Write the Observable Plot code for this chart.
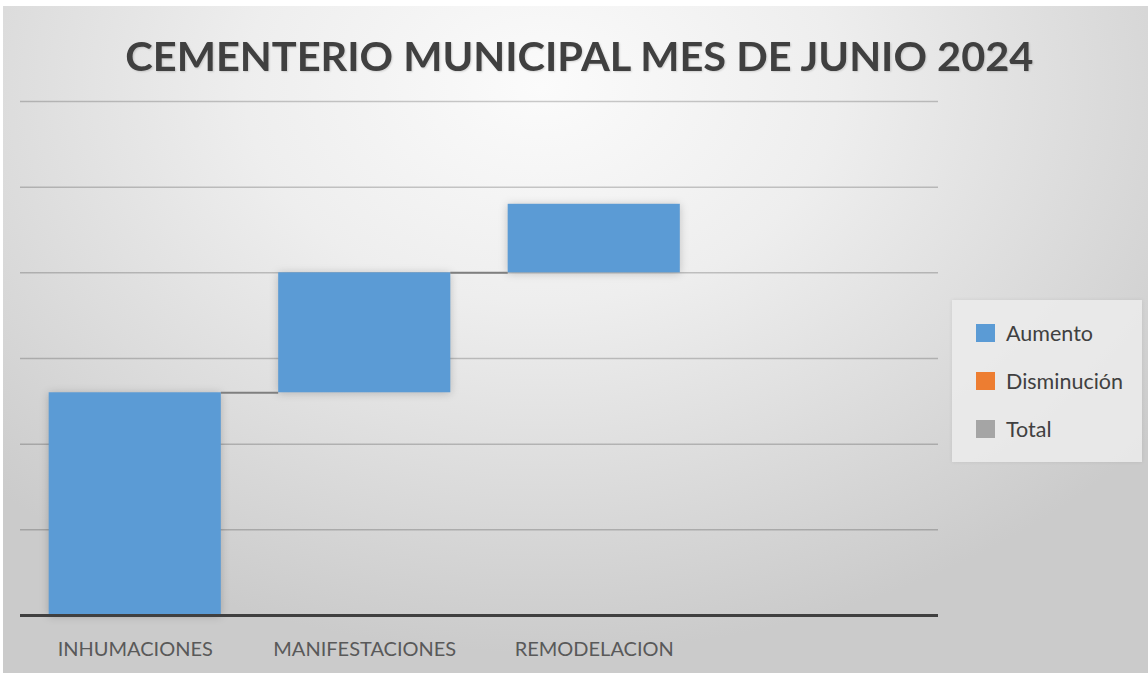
<!DOCTYPE html>
<html>
<head>
<meta charset="utf-8">
<script src="https://cdn.jsdelivr.net/npm/d3@7"></script>
<script src="https://cdn.jsdelivr.net/npm/@observablehq/plot@0.6"></script>
<style>
  html, body { margin: 0; padding: 0; background: #ffffff; width: 1148px; height: 673px; overflow: hidden; }
  #frame { position: absolute; left: 3px; top: 6px; width: 1145px; height: 667px;
    background: radial-gradient(ellipse 68% 85% at 47% 12%, #fbfbfb 0%, #eeeeee 38%, #dcdcdc 70%, #cbcbcb 100%); }
  #chart { position: absolute; left: 0; top: 0; }
  #title { position: absolute; left: 0; width: 1158px; top: 35px; text-align: center;
    font-family: Lato, "Open Sans", sans-serif; font-weight: 700; font-size: 41px; line-height: 1;
    color: #404040; white-space: nowrap; }
  #title span { display: inline-block; transform-origin: center; text-shadow: 1px 1px 2px rgba(0,0,0,0.15); }
  #legend { position: absolute; left: 952px; top: 300px; width: 190px; height: 162px;
    background: rgba(236,236,236,0.85); box-shadow: 0 0 4px rgba(0,0,0,0.08);
    font-family: Lato, "Open Sans", sans-serif; font-size: 21.5px; color: #404040; }
  .item { position: absolute; left: 24px; height: 24px; display: flex; align-items: center; }
  .sw { width: 19px; height: 18px; margin-right: 11px; }
</style>
</head>
<body>
<div id="frame"></div>
<div id="chart"></div>
<div id="title"><span>CEMENTERIO MUNICIPAL MES DE JUNIO 2024</span></div>
<div id="legend"></div>
<script>
const categories = ["INHUMACIONES", "MANIFESTACIONES", "REMODELACION"];
const values = [26, 14, 8];
const gridValues = [10, 20, 30, 40, 50, 60];
const legendLabels = ["Aumento", "Disminución", "Total"];
const legendColors = ["#5b9bd5", "#ed7d31", "#a5a5a5"];

let acc = 0;
const rows = categories.map((c, i) => {
  const start = acc; acc += values[i];
  return { cat: c, i, start, end: acc };
});
const connectors = rows.slice(0, -1).map(r => ({ i: r.i, y: r.end }));

const svg = Plot.plot({
  width: 1148, height: 673,
  marginLeft: 20, marginRight: 210, marginTop: 101, marginBottom: 58,
  style: { background: "transparent", fontFamily: "Lato, 'Open Sans', sans-serif" },
  x: { type: "linear", domain: [0, categories.length + 1] },
  y: { domain: [0, 60], axis: null },
  marks: [
    Plot.ruleY(gridValues, { stroke: "#000000", strokeOpacity: 0.2, strokeWidth: 1.5 }),
    Plot.rectY(rows, { x1: d => d.i + 0.125, x2: d => d.i + 0.875, y1: "start", y2: "end", fill: legendColors[0] }),
    Plot.ruleY(connectors, { x1: d => d.i + 0.875, x2: d => d.i + 1.125, y: "y", stroke: "#7f7f7f", strokeWidth: 2 }),
    Plot.ruleY([0], { stroke: "#404040", strokeWidth: 3 }),
    Plot.axisX(rows.map(r => r.i + 0.5), {
      tickFormat: v => categories[Math.floor(v)],
      tickSize: 0, tickPadding: 26, fontSize: 20, fill: "#595959", label: null
    })
  ]
});
document.getElementById("chart").appendChild(svg);
d3.select(svg).selectAll("g[aria-label='rect'] rect")
  .style("filter", "drop-shadow(0px 1px 4px rgba(0,0,0,0.2))");

// fit title width to reference span
const span = document.querySelector("#title span");
const w = span.getBoundingClientRect().width;
span.style.transform = `scaleX(${908 / w})`;

const legend = document.getElementById("legend");
legendLabels.forEach((lab, k) => {
  const it = document.createElement("div");
  it.className = "item";
  it.style.top = (21 + k * 48) + "px";
  it.innerHTML = `<div class="sw" style="background:${legendColors[k]}"></div><span>${lab}</span>`;
  legend.appendChild(it);
});
</script>
</body>
</html>
